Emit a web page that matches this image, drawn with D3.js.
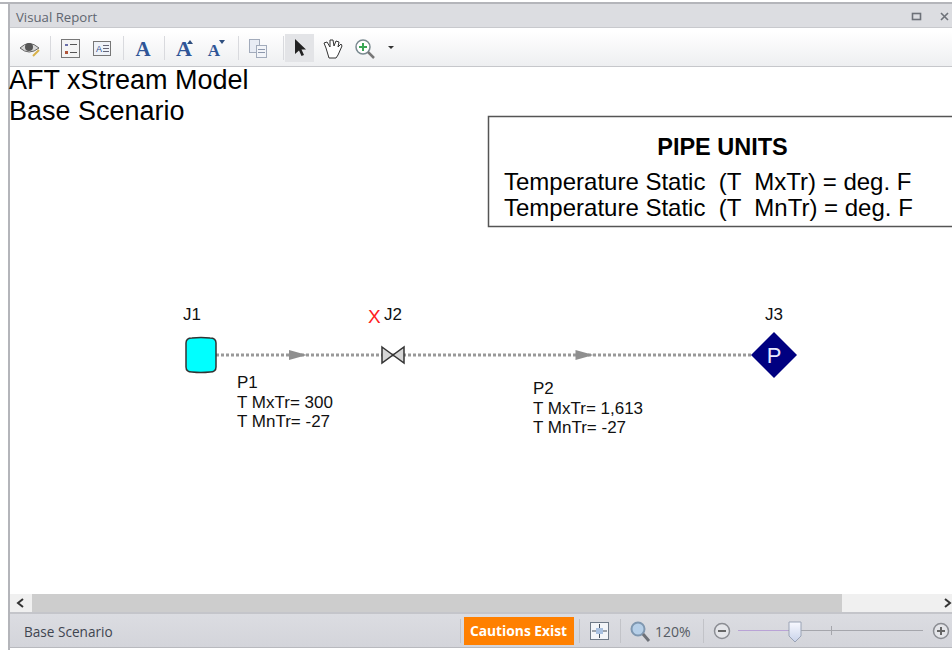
<!DOCTYPE html>
<html>
<head>
<meta charset="utf-8">
<script src="https://cdn.jsdelivr.net/npm/d3@7"></script>
<style>
    html, body { margin: 0; padding: 0; background: #fff; overflow: hidden; }
    text { font-family: "Liberation Sans", Arial, sans-serif; white-space: pre; }
    .ui { font-family: "Open Sans", "Noto Sans", sans-serif; }
    .serif { font-family: "Liberation Serif", serif; }
</style>
</head>
<body>
<div id="container"></div>
<script>
'use strict';
(function() {
    // model data
    var junctionNames = ['J1', 'J2', 'J3'];
    var pipeNames = ['P1', 'P2'];
    var pipeLengths = [192, 381];
    var maxTemps = [300, 1613];
    var minTemps = [-27, -27];
    var titleLines = ['AFT xStream Model', 'Base Scenario'];
    var unitsTitle = 'PIPE UNITS';
    var unitsLines = ['Temperature Static  (T  MxTr) = deg. F', 'Temperature Static  (T  MnTr) = deg. F'];

    var width = 952, height = 650;
    var lineY = 355;

    var svg = d3.select('#container').append('svg')
        .attr('width', width)
        .attr('height', height)
        .style('display', 'block');

    var defs = svg.append('defs');
    function gradient(id, top, bottom) {
        var g = defs.append('linearGradient').attr('id', id).attr('x1', 0).attr('x2', 0).attr('y1', 0).attr('y2', 1);
        g.append('stop').attr('offset', 0).attr('stop-color', top);
        g.append('stop').attr('offset', 1).attr('stop-color', bottom);
    }
    gradient('toolbarFill', '#ffffff', '#eeeff1');
    gradient('statusFill', '#dcdde2', '#d3d4da');
    gradient('thumbFill', '#f8f9ff', '#c9d3ea');

    // distance along the pipe run -> screen x
    var distances = d3.cumsum([0].concat(pipeLengths));
    var scaleX = d3.scaleLinear()
        .domain([0, d3.sum(pipeLengths)])
        .range([201, 774]);
    // plain hyphen for negatives, like the report does
    var fmt = d3.formatLocale({decimal: '.', thousands: ',', grouping: [3], currency: ['$', ''], minus: '-'}).format(',');

    drawChrome();
    drawHeader();
    drawPipes();
    drawJunctions();
    drawStatusBar();

    function rect(parent, x, y, w, h, fill) {
        return parent.append('rect').attr('x', x).attr('y', y).attr('width', w).attr('height', h).attr('fill', fill);
    }

    function drawChrome() {
        var g = svg.append('g');
        rect(g, 0, 0, width, height, '#ffffff');
        rect(g, 0, 2, width, 2, '#b4b5ba');
        rect(g, 8, 2, 2, 648, '#b4b5ba');
        rect(g, 10, 4, width - 10, 24, '#dcdde1');
        rect(g, 10, 27, width - 10, 1, '#c8c9cd');
        rect(g, 10, 31, width - 10, 35, 'url(#toolbarFill)');
        rect(g, 10, 66, width - 10, 1, '#c6c7cb');

        g.append('text').attr('class', 'ui').attr('x', 16).attr('y', 21.5)
            .attr('font-size', 13.2).attr('fill', '#5f6670').text('Visual Report');

        // window buttons
        g.append('rect').attr('x', 912.5).attr('y', 13.5).attr('width', 8).attr('height', 6)
            .attr('fill', 'none').attr('stroke', '#6d7178').attr('stroke-width', 1.6);
        g.append('path').attr('d', 'M941,13L948,20M948,13L941,20')
            .attr('stroke', '#6d7178').attr('stroke-width', 1.6);

        drawToolbar(g);
    }

    function drawToolbar(g) {
        // separators
        [50, 123, 164, 238, 283].forEach(function(x) {
            rect(g, x, 36, 1, 24, '#d9dade');
        });

        // eye
        g.append('path').attr('d', 'M20,48Q29,39 39,48Q29,56 20,48Z').attr('fill', '#d8d8d8').attr('stroke', '#666');
        g.append('circle').attr('cx', 29).attr('cy', 47).attr('r', 4).attr('fill', '#555');
        g.append('path').attr('d', 'M33,56L39,50').attr('stroke', '#d9b24a').attr('stroke-width', 2);

        // legend and text box buttons
        g.append('rect').attr('x', 61.5).attr('y', 39.5).attr('width', 18).attr('height', 18).attr('fill', '#f4f4f4').attr('stroke', '#777');
        rect(g, 65, 44, 3, 2, '#6a6fa8');
        rect(g, 65, 51, 3, 3, '#b0553a');
        rect(g, 70, 44, 7, 1, '#555');
        rect(g, 70, 52, 7, 1, '#555');
        g.append('rect').attr('x', 93.5).attr('y', 41.5).attr('width', 17).attr('height', 14).attr('fill', '#eef2f8').attr('stroke', '#777');
        g.append('text').attr('x', 96).attr('y', 52).attr('font-size', 9).attr('fill', '#2f4f8f').text('A');
        rect(g, 103, 45, 6, 1, '#667');
        rect(g, 103, 48, 6, 1, '#667');
        rect(g, 103, 51, 6, 1, '#667');

        // font buttons
        [{x: 143, s: 21}, {x: 184, s: 22}, {x: 214, s: 17}].forEach(function(b) {
            g.append('text').attr('class', 'serif').attr('x', b.x).attr('y', 56).attr('text-anchor', 'middle')
                .attr('font-weight', 'bold')
                .attr('font-size', b.s).attr('fill', '#2f5597').text('A');
        });
        g.append('path').attr('d', 'M187,44L193,44L190,40Z').attr('fill', '#2f4f7f');
        g.append('path').attr('d', 'M219,40L225,40L222,44Z').attr('fill', '#2f4f7f');

        // copy
        g.append('rect').attr('x', 249.5).attr('y', 39.5).attr('width', 10).attr('height', 13).attr('fill', '#e8ecf4').attr('stroke', '#a2abbb');
        g.append('rect').attr('x', 256.5).attr('y', 45.5).attr('width', 10).attr('height', 12).attr('fill', '#f2f4f8').attr('stroke', '#a2abbb');
        rect(g, 258, 49, 7, 1, '#8d98ad');
        rect(g, 258, 52, 7, 1, '#8d98ad');

        // pointer (active), hand, zoom
        rect(g, 285, 34, 29, 28, '#e3e4e7');
        g.append('path').attr('d', 'M295,39L295,54L299,50.5L301.5,56L304,55L301.5,49.5L306,49.5Z').attr('fill', '#222');
        g.append('path').attr('d', 'M326,48L324,43L327,42L330,47L330,40L333,40L334,46L336,41L339,42L338,47L341,44L342,46L338,55L336,58L329,58Z')
            .attr('fill', '#fff').attr('stroke', '#333');
        g.append('circle').attr('cx', 363).attr('cy', 47).attr('r', 7).attr('fill', '#fff').attr('stroke', '#7a8a90').attr('stroke-width', 1.5);
        g.append('path').attr('d', 'M359,47L367,47M363,43L363,51').attr('stroke', '#3aa655').attr('stroke-width', 2);
        g.append('path').attr('d', 'M368,52L374,58').attr('stroke', '#777').attr('stroke-width', 2.5);
        g.append('path').attr('d', 'M388,46L394,46L391,49Z').attr('fill', '#333');
    }

    function drawHeader() {
        svg.selectAll('.title').data(titleLines).enter().append('text')
            .attr('class', 'title')
            .attr('x', 9)
            .attr('y', function(d, i) { return 89 + i * 31; })
            .attr('font-size', 27)
            .attr('fill', '#000')
            .text(function(d) { return d; });

        svg.append('rect').attr('x', 488.5).attr('y', 116.5).attr('width', 480).attr('height', 110)
            .attr('fill', '#fff').attr('stroke', '#555').attr('stroke-width', 1.5);
        svg.append('text').attr('x', 722.5).attr('y', 155).attr('text-anchor', 'middle')
            .attr('font-size', 23.5).attr('font-weight', 'bold').attr('fill', '#000').text(unitsTitle);
        svg.selectAll('.unit').data(unitsLines).enter().append('text')
            .attr('class', 'unit')
            .attr('x', 504)
            .attr('y', function(d, i) { return 190 + i * 26; })
            .attr('font-size', 24)
            .attr('fill', '#000')
            .text(function(d) { return d; });
    }

    function drawPipes() {
        var pipes = svg.selectAll('.pipe').data(pipeNames).enter().append('g').attr('class', 'pipe');

        pipes.append('line')
            .attr('x1', function(d, i) { return scaleX(distances[i]); })
            .attr('x2', function(d, i) { return scaleX(distances[i + 1]); })
            .attr('y1', lineY).attr('y2', lineY)
            .attr('stroke', '#999999')
            .attr('stroke-width', 3)
            .attr('stroke-dasharray', '3,2');

        // flow arrow at the middle of the pipe
        pipes.append('path')
            .attr('transform', function(d, i) {
                var mid = (scaleX(distances[i]) + scaleX(distances[i + 1])) / 2;
                return 'translate(' + (mid + 1) + ',' + lineY + ')';
            })
            .attr('d', 'M-9,-5L9,0L-9,5Z')
            .attr('fill', '#8f8f8f');

        var labelX = [237, 533];
        var labelY = [388, 394];
        var labels = pipes.append('text')
            .attr('font-size', 17)
            .attr('fill', '#111');
        labels.selectAll('tspan')
            .data(function(d, i) {
                return [
                    {t: d, x: labelX[i], y: labelY[i]},
                    {t: 'T MxTr= ' + fmt(maxTemps[i]), x: labelX[i], y: labelY[i] + 20},
                    {t: 'T MnTr= ' + fmt(minTemps[i]), x: labelX[i], y: labelY[i] + 39}
                ];
            })
            .enter().append('tspan')
            .attr('x', function(d) { return d.x; })
            .attr('y', function(d) { return d.y; })
            .text(function(d) { return d.t; });
    }

    function drawJunctions() {
        var x1 = scaleX(distances[0]), x2 = scaleX(distances[1]), x3 = scaleX(distances[2]);

        // reservoir
        svg.append('path')
            .attr('transform', 'translate(' + x1 + ',' + lineY + ')')
            .attr('d', 'M-15,-12Q-15,-17 -9,-17Q0,-18 9,-17Q15,-17 15,-12L15,12Q15,17 9,17Q0,18 -9,17Q-15,17 -15,12Z')
            .attr('fill', '#00ffff')
            .attr('stroke', '#333')
            .attr('stroke-width', 1.5);

        // valve
        svg.append('path')
            .attr('transform', 'translate(' + x2 + ',' + lineY + ')')
            .attr('d', 'M-11,-8L11,8L11,-8L-11,8Z')
            .attr('fill', '#d6d6d6')
            .attr('stroke', '#333')
            .attr('stroke-width', 1.5);

        // assigned pressure
        svg.append('path')
            .attr('transform', 'translate(' + x3 + ',' + lineY + ')')
            .attr('d', 'M0,-23L23,0L0,23L-23,0Z')
            .attr('fill', '#000080');
        svg.append('text').attr('x', x3).attr('y', lineY + 8).attr('text-anchor', 'middle')
            .attr('font-size', 22).attr('fill', '#e8e8ff').text('P');

        var labelPos = [x1 - 18, x2 - 9, x3 - 9];
        svg.selectAll('.jname').data(junctionNames).enter().append('text')
            .attr('class', 'jname')
            .attr('x', function(d, i) { return labelPos[i]; })
            .attr('y', 320)
            .attr('font-size', 17)
            .attr('fill', '#111')
            .text(function(d) { return d; });

        svg.append('text').attr('x', x2 - 25).attr('y', 323)
            .attr('font-size', 19).attr('fill', '#ff2020').text('X');
    }

    function drawStatusBar() {
        var g = svg.append('g');
        // scrollbar
        rect(g, 10, 594, width - 10, 18, '#f0f0f0');
        rect(g, 32, 594, 810, 18, '#cdcdcd');
        g.append('path').attr('d', 'M23,599L18,603L23,607').attr('fill', 'none').attr('stroke', '#333').attr('stroke-width', 2);
        g.append('path').attr('d', 'M945,599L950,603L945,607').attr('fill', 'none').attr('stroke', '#333').attr('stroke-width', 2);

        // status
        rect(g, 10, 612, width - 10, 36, 'url(#statusFill)');
        rect(g, 10, 612, width - 10, 2, '#c4c5ca');
        rect(g, 10, 647, width - 10, 1, '#b8b9be');
        g.append('text').attr('class', 'ui').attr('x', 24).attr('y', 637)
            .attr('font-size', 13.6).attr('fill', '#3f4550').text('Base Scenario');

        rect(g, 464, 617, 110, 28, '#ff8000');
        g.append('text').attr('class', 'ui').attr('x', 518.5).attr('y', 636).attr('text-anchor', 'middle')
            .attr('font-size', 13.8).attr('font-weight', 'bold').attr('fill', '#fff').text('Cautions Exist');

        [460, 579, 620, 703].forEach(function(x) { rect(g, x, 619, 1, 24, '#c2c3c8'); });

        // fit to window
        g.append('rect').attr('x', 590.5).attr('y', 622.5).attr('width', 18).attr('height', 17).attr('fill', '#f3f5f9').attr('stroke', '#6f7a88');
        g.append('path').attr('d', 'M599.5,624V638M592,631H607').attr('stroke', '#44505f');
        rect(g, 596, 628, 7, 6, '#a8c0e0');

        // zoom glass
        g.append('circle').attr('cx', 638).attr('cy', 629).attr('r', 6.5).attr('fill', '#b6cfe8').attr('stroke', '#7f97b0').attr('stroke-width', 2);
        g.append('path').attr('d', 'M643,634L649,641').attr('stroke', '#6d7178').attr('stroke-width', 3);
        g.append('text').attr('class', 'ui').attr('x', 655).attr('y', 637)
            .attr('font-size', 14).attr('fill', '#555b63').text('120%');

        // slider
        g.append('circle').attr('cx', 722).attr('cy', 631).attr('r', 7.5).attr('fill', '#e4e5e9').attr('stroke', '#8b8d93').attr('stroke-width', 1.5);
        rect(g, 718, 630, 8, 2, '#666');
        g.append('circle').attr('cx', 941).attr('cy', 631).attr('r', 7.5).attr('fill', '#e4e5e9').attr('stroke', '#8b8d93').attr('stroke-width', 1.5);
        rect(g, 937, 630, 8, 2, '#666');
        rect(g, 940, 627, 2, 8, '#666');
        rect(g, 738, 630, 185, 1, '#a5a6ac');
        rect(g, 738, 630, 50, 1, '#b9a3d6');
        rect(g, 831, 626, 1, 9, '#a5a6ac');
        g.append('path').attr('d', 'M789,622H801V636L795,642L789,636Z').attr('fill', 'url(#thumbFill)').attr('stroke', '#9aa3b5');
    }
})();
</script>
</body>
</html>
